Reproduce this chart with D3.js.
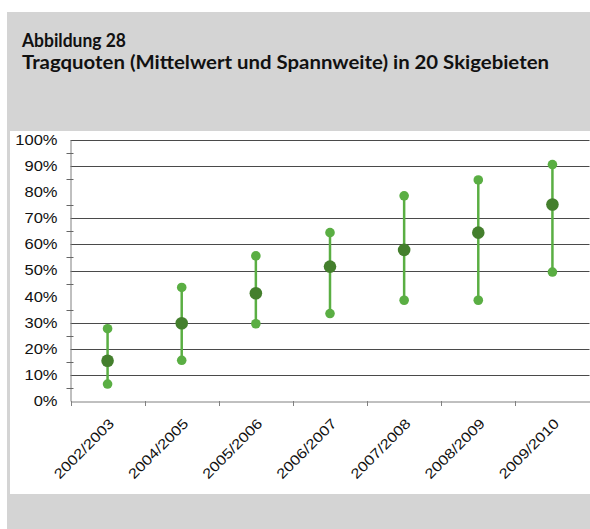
<!DOCTYPE html>
<html lang="de">
<head>
<meta charset="UTF-8">
<title>Abbildung 28</title>
<script src="https://d3js.org/d3.v7.min.js"></script>
<style>
  body { margin: 0; background: #fff; }
  svg text { font-family: "Liberation Sans", Arial, sans-serif; }
</style>
</head>
<body>
<svg id="canvas" width="590" height="529"></svg>
<script>
  // Tragquoten je Saison (in %)
  const seasons = ["2002/2003", "2004/2005", "2005/2006", "2006/2007", "2007/2008", "2008/2009", "2009/2010"];
  const minVals = [6.5, 15.6, 29.6, 33.5, 38.6, 38.6, 49.4];
  const meanVals = [15.4, 29.8, 41.3, 51.5, 57.9, 64.5, 75.3];
  const maxVals = [27.7, 43.5, 55.6, 64.5, 78.6, 84.7, 90.6];
  const yTicks = [0, 10, 20, 30, 40, 50, 60, 70, 80, 90, 100];
  const gridTicks = [10, 20, 30, 50, 60, 70, 90, 100];  // im Original fehlen 40 % und 80 %

  const svg = d3.select("#canvas");
  const stretch = 1.18; // Beschriftung im Original breit gezogen

  // Rahmen
  svg.append("rect").attr("x", 7).attr("y", 12).attr("width", 583).attr("height", 517).attr("fill", "#d4d4d4");
  svg.append("rect").attr("x", 10).attr("y", 131).attr("width", 580).attr("height", 363).attr("fill", "#fff");

  svg.append("text").attr("x", 22).attr("y", 47)
    .style("font-family", "Lato, 'Open Sans', sans-serif").style("font-weight", "bold").style("font-size", "19px")
    .attr("fill", "#111").attr("textLength", 104).attr("lengthAdjust", "spacingAndGlyphs")
    .text("Abbildung 28");
  svg.append("text").attr("x", 22).attr("y", 69)
    .style("font-family", "Lato, 'Open Sans', sans-serif").style("font-weight", "bold").style("font-size", "19px")
    .attr("fill", "#111").attr("textLength", 527).attr("lengthAdjust", "spacingAndGlyphs")
    .text("Tragquoten (Mittelwert und Spannweite) in 20 Skigebieten");

  const plotL = 70.5, plotR = 589.5, plotT = 140, plotB = 401;
  const x = d3.scaleBand().domain(seasons).range([plotL, plotR]);
  const y = d3.scaleLinear().domain([0, 100]).range([plotB, plotT]);

  // Gitterlinien
  svg.append("g").selectAll("line").data(gridTicks).join("line")
    .attr("x1", plotL).attr("x2", plotR)
    .attr("y1", d => Math.round(y(d)) + 0.5).attr("y2", d => Math.round(y(d)) + 0.5)
    .attr("stroke", "#4a4a4a").attr("stroke-width", 1);

  // y-Achse
  const yAxis = svg.append("g").attr("transform", `translate(${plotL},0)`)
    .call(d3.axisLeft(y).tickValues(yTicks).tickFormat(d => d + "%").tickSize(0));
  yAxis.select(".domain").attr("stroke", "#808080");
  yAxis.selectAll("text")
    .attr("x", -13 / stretch).attr("transform", `scale(${stretch},1)`)
    .style("font-size", "14px").attr("fill", "#111");
  svg.append("g").selectAll("line").data(d3.range(5, 100, 10)).join("line")
    .attr("x1", plotL - 4).attr("x2", plotL + 3)
    .attr("y1", d => Math.round(y(d)) + 0.5).attr("y2", d => Math.round(y(d)) + 0.5)
    .attr("stroke", "#666");

  // x-Achse
  const xAxis = svg.append("g").attr("transform", `translate(0,${Math.round(plotB) + 0.5})`)
    .call(d3.axisBottom(x).tickSize(0).tickFormat(""));
  xAxis.select(".domain").attr("stroke", "#808080");
  svg.append("g").selectAll("line").data(seasons.map((s, i) => i).concat([seasons.length])).join("line")
    .attr("x1", i => Math.round(plotL + i * x.bandwidth()) + 0.5)
    .attr("x2", i => Math.round(plotL + i * x.bandwidth()) + 0.5)
    .attr("y1", plotB).attr("y2", plotB + 5).attr("stroke", "#808080");

  svg.append("g").selectAll("text").data(seasons).join("text")
    .attr("transform", d => `translate(${x(d) + x.bandwidth() / 2 + 4},${plotB + 20}) rotate(-45) scale(${stretch},1)`)
    .attr("text-anchor", "end").attr("dy", "0.35em")
    .style("font-size", "14px").attr("fill", "#111").text(d => d);

  // Spannweite
  const cx = d => x(d) + x.bandwidth() / 2;
  svg.append("g").selectAll("line").data(seasons).join("line")
    .attr("x1", cx).attr("x2", cx)
    .attr("y1", (d, i) => y(minVals[i])).attr("y2", (d, i) => y(maxVals[i]))
    .attr("stroke", "#5aae43").attr("stroke-width", 2.5);
  svg.append("g").selectAll("circle").data(seasons.concat(seasons)).join("circle")
    .attr("cx", cx)
    .attr("cy", (d, i) => i < seasons.length ? y(minVals[i]) : y(maxVals[i - seasons.length]))
    .attr("r", 4.8).attr("fill", "#5aae43");
  svg.append("g").selectAll("circle").data(seasons).join("circle")
    .attr("cx", cx).attr("cy", (d, i) => y(meanVals[i]))
    .attr("r", 6.3).attr("fill", "#447f2d");
</script>
</body>
</html>
